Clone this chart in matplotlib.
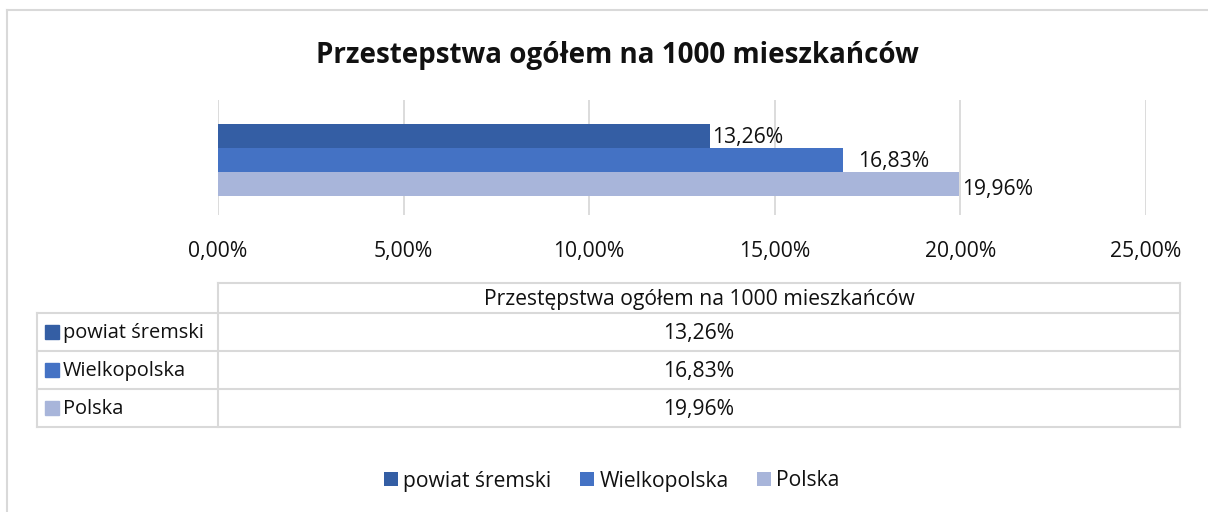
import matplotlib
matplotlib.use("Agg")
import matplotlib.pyplot as plt
from matplotlib.lines import Line2D
from matplotlib.patches import Rectangle, Patch

# ---- data ----
title = "Przestepstwa ogółem na 1000 mieszkańców"
table_header = "Przestępstwa ogółem na 1000 mieszkańców"
series_names = ["powiat śremski", "Wielkopolska", "Polska"]
values = [13.26, 16.83, 19.96]
colors = ["#345EA4", "#4472C4", "#A8B5DA"]
x_ticks = [0, 5, 10, 15, 20, 25]

FONT = ["Open Sans", "DejaVu Sans"]
plt.rcParams["font.family"] = FONT
TXT = "#111111"
GRID = "#D9D9D9"
FS = 15.2

W, H = 1208, 512
fig = plt.figure(figsize=(W / 100, H / 100), dpi=100)
fig.patch.set_facecolor("white")


def fx(x):
    return x / W


def fy(y):
    return 1 - y / H


def pct(v):
    return f"{v:.2f}".replace(".", ",") + "%"


# outer border (top and left visible)
fig.add_artist(Line2D([fx(7), fx(7)], [fy(10), fy(512)], color=GRID, lw=1.5, transform=fig.transFigure))
fig.add_artist(Line2D([fx(7), fx(1208)], [fy(10), fy(10)], color=GRID, lw=1.5, transform=fig.transFigure))

# title
fig.text(fx(617), fy(55), title, ha="center", va="center", fontsize=20,
         fontweight="bold", color=TXT)

# ---- bar axes ----
left, right, top, bottom = 218, 1146, 100, 215
ax = fig.add_axes([fx(left), fy(bottom), fx(right - left), (bottom - top) / H])
ypos = [2, 1, 0]
ax.barh(ypos, values, height=1.0, color=colors, zorder=3)
ax.set_xlim(0, 25)
ax.set_ylim(-0.5 - 19 / 24, 3.5)
ax.set_xticks(x_ticks)
ax.set_xticklabels([])
ax.set_yticks([])
ax.grid(axis="x", color=GRID, lw=1.3, zorder=0)
for s in ax.spines.values():
    s.set_visible(False)
ax.tick_params(length=0)
ax.set_facecolor("none")
label_dx_px = [2, 15, 3]
label_dy_px = [-2, -2, -5]
for y, v, dx, dy in zip(ypos, values, label_dx_px, label_dy_px):
    ax.annotate(pct(v), xy=(v, y), xytext=(dx * 0.72, dy * 0.72), textcoords="offset points",
                ha="left", va="center", fontsize=FS, color=TXT, zorder=4)

# x tick labels
px_per = (right - left) / 25
for t in x_ticks:
    fig.text(fx(left + t * px_per), fy(251), pct(t), ha="center", va="center",
             fontsize=FS, color=TXT)

# ---- data table ----
tl, tm, tr = 37, 218, 1180
rows_y = [283, 313, 351, 389, 427]


def hline(x0, x1, y):
    fig.add_artist(Line2D([fx(x0), fx(x1)], [fy(y), fy(y)], color=GRID, lw=1.5,
                          transform=fig.transFigure))


def vline(x, y0, y1):
    fig.add_artist(Line2D([fx(x), fx(x)], [fy(y0), fy(y1)], color=GRID, lw=1.5,
                          transform=fig.transFigure))


hline(tm, tr, rows_y[0])
for y in rows_y[1:]:
    hline(tl, tr, y)
vline(tl, rows_y[1], rows_y[-1])
vline(tm, rows_y[0], rows_y[-1])
vline(tr, rows_y[0], rows_y[-1])

fig.text(fx((tm + tr) / 2), fy((rows_y[0] + rows_y[1]) / 2 + 1), table_header,
         ha="center", va="center", fontsize=FS, color=TXT)
for i, (name, v, c) in enumerate(zip(series_names, values, colors)):
    yc = (rows_y[i + 1] + rows_y[i + 2]) / 2
    fig.add_artist(Rectangle((fx(45), fy(yc + 7)), 14 / W, 14 / H, color=c,
                             transform=fig.transFigure))
    fig.text(fx(63), fy(yc + 1), name, ha="left", va="center", fontsize=14.4, color=TXT)
    fig.text(fx((tm + tr) / 2), fy(yc + 1), pct(v), ha="center", va="center",
             fontsize=FS, color=TXT)

# ---- legend ----
handles = [Patch(facecolor=c, edgecolor="none") for c in colors]
fig.legend(handles, series_names, loc="center", bbox_to_anchor=(fx(612), fy(481)),
           ncol=3, frameon=False, fontsize=FS, handlelength=0.66, handleheight=0.66,
           handletextpad=0.25, columnspacing=1.35, labelcolor=TXT)

fig.savefig("out.png", dpi=100, facecolor="white")
